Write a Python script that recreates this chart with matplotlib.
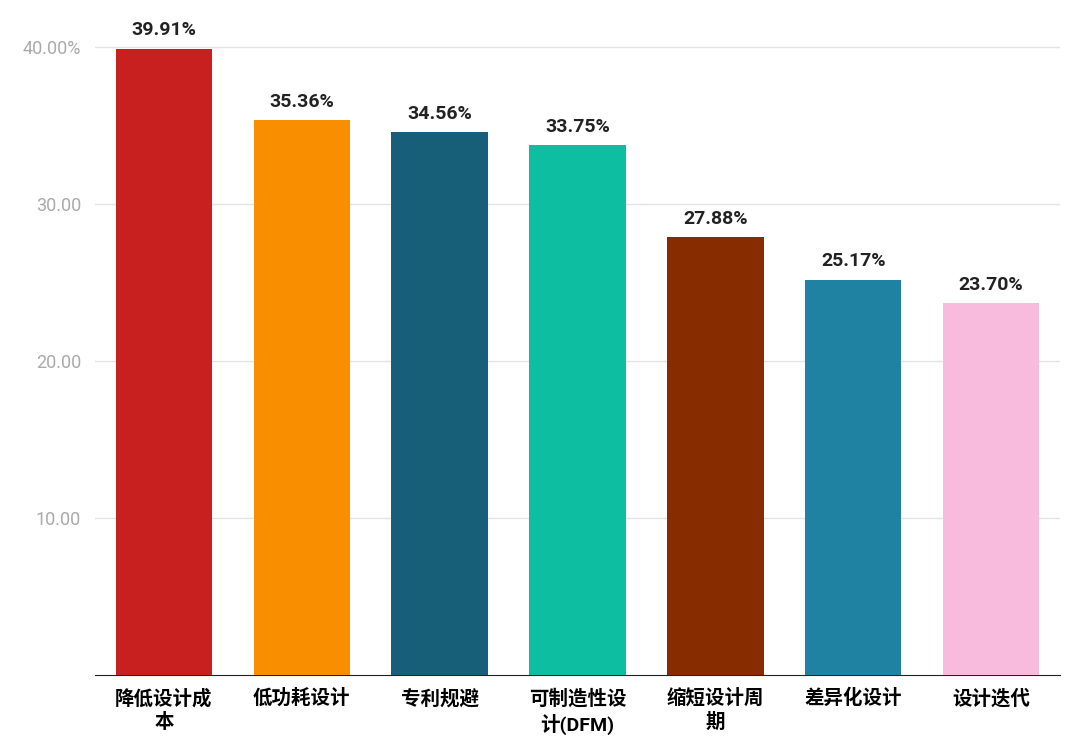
import matplotlib
matplotlib.use("Agg")
import matplotlib.pyplot as plt

plt.rcParams['font.family'] = ['Roboto', 'Noto Sans CJK SC', 'DejaVu Sans']

categories = ["降低设计成\n本", "低功耗设计", "专利规避", "可制造性设\n计(DFM)", "缩短设计周\n期", "差异化设计", "设计迭代"]
values = [39.91, 35.36, 34.56, 33.75, 27.88, 25.17, 23.70]
colors = ["#C81F1F", "#F98E00", "#175E79", "#0DBFA0", "#862C00", "#1F82A3", "#F9BBDD"]
yticks = [10, 20, 30, 40]
ytick_labels = ["10.00", "20.00", "30.00", "40.00%"]

fig = plt.figure(figsize=(10.8, 7.56), dpi=100)
ax = fig.add_axes([95/1080, 81/756, 965/1080, 675/756])
x = range(len(values))
ax.bar(x, values, width=0.7, color=colors, zorder=3)
for i, v in enumerate(values):
    ax.text(i, v + 0.6, f"{v:.2f}%", ha='center', va='bottom', fontsize=14, fontweight='bold', color='#222222')
ax.set_xlim(-0.5, len(values) - 0.5)
ax.set_ylim(0, 43)
ax.set_yticks(yticks)
ax.set_yticklabels(ytick_labels, color='#AAAAAA', fontsize=13)
ax.set_xticks(list(x))
ax.set_xticklabels(categories, fontsize=14, fontweight='bold', va='top', linespacing=1.3)
ax.grid(axis='y', color='#E3E3E3', linewidth=1, zorder=0)
for s in ['left', 'right', 'top']:
    ax.spines[s].set_visible(False)
ax.spines['bottom'].set_color('#222222')
ax.tick_params(axis='y', length=0, pad=10)
ax.tick_params(axis='x', length=0, pad=10)
fig.savefig("out.png", dpi=100)
